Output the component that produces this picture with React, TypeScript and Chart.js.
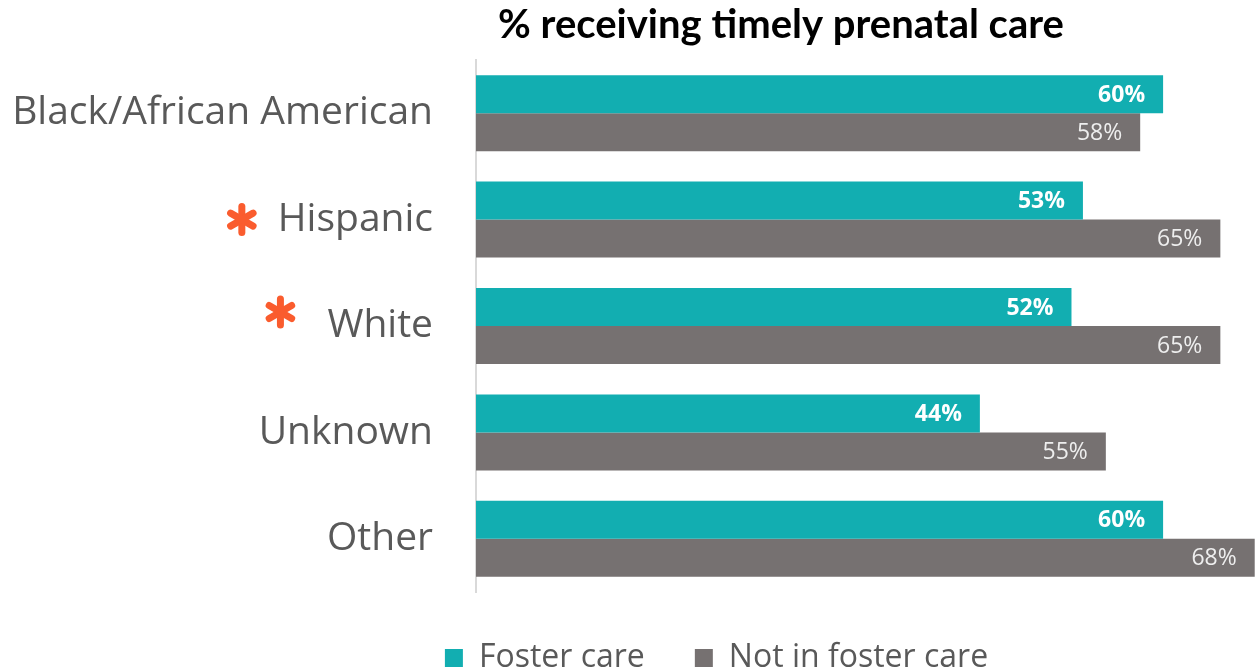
import React, { useEffect, useRef } from "react";
import { Chart, registerables } from "chart.js";

Chart.register(...registerables);

const categories = ["Black/African American", "Hispanic", "White", "Unknown", "Other"];
const fosterCare = [60, 53, 52, 44, 60];
const notInFosterCare = [58, 65, 65, 55, 68];
const starredCategories = ["Hispanic", "White"];
const seriesNames = ["Foster care", "Not in foster care"];
const titleText = "% receiving timely prenatal care";

const TEAL = "#12AEB1";
const GREY = "#767171";
const LABEL_GREY = "#595959";
const ASTERISK = "#FA5C2E";
const FONT = "'Open Sans', Lato, sans-serif";
const TITLE_FONT = "Lato, 'Open Sans', sans-serif";
const TICK_SIZE = 39;

export default function App() {
  const canvasRef = useRef<HTMLCanvasElement | null>(null);

  useEffect(() => {
    document.body.style.margin = "0";
    const canvas = canvasRef.current;
    if (!canvas) return;

    const overlay = {
      id: "overlay",
      afterLayout(chart: any) {
        const lg = chart.legend;
        if (lg) {
          const dx = 88;
          lg.left += dx;
          lg.right += dx;
        }
      },
      afterDatasetsDraw(chart: any) {
        const ctx = chart.ctx;
        ctx.save();
        chart.data.datasets.forEach((ds: any, di: number) => {
          const meta = chart.getDatasetMeta(di);
          meta.data.forEach((bar: any, i: number) => {
            const v = ds.data[i];
            ctx.font = di === 0 ? `bold 23px ${FONT}` : `23px ${FONT}`;
            ctx.fillStyle = di === 0 ? "#FFFFFF" : "#EEEEEE";
            ctx.textAlign = "right";
            ctx.textBaseline = "middle";
            ctx.fillText(`${Math.round(v)}%`, bar.x - 18, bar.y + 1);
          });
        });
        ctx.restore();
      },
      afterDraw(chart: any) {
        const ctx = chart.ctx;
        ctx.save();
        ctx.font = `bold 40px ${TITLE_FONT}`;
        ctx.fillStyle = "#000000";
        ctx.textAlign = "center";
        ctx.textBaseline = "alphabetic";
        ctx.fillText(titleText, 781, 38);

        const yScale = chart.scales.y;
        ctx.font = `${TICK_SIZE}px ${FONT}`;
        const labelRight = yScale.right - 43;
        starredCategories.forEach((name) => {
          const idx = categories.indexOf(name);
          const py = yScale.getPixelForValue(idx);
          const w = ctx.measureText(name).width;
          const left = labelRight - w;
          const raised = name === "White";
          const cx = raised ? left - 47 : left - 36;
          const cy = raised ? py - 14 : py;
          ctx.strokeStyle = ASTERISK;
          ctx.lineWidth = 7;
          ctx.lineCap = "round";
          const r = 13;
          for (let k = 0; k < 3; k++) {
            const a = Math.PI / 2 + (k * Math.PI) / 3;
            ctx.beginPath();
            ctx.moveTo(cx - r * Math.cos(a), cy - r * Math.sin(a));
            ctx.lineTo(cx + r * Math.cos(a), cy + r * Math.sin(a));
            ctx.stroke();
          }
        });
        ctx.restore();
      },
    };

    const chart = new Chart(canvas, {
      type: "bar",
      data: {
        labels: categories,
        datasets: [
          {
            label: seriesNames[0],
            data: fosterCare,
            backgroundColor: TEAL,
            borderWidth: 0,
            categoryPercentage: 0.714,
            barPercentage: 1.0,
          },
          {
            label: seriesNames[1],
            data: notInFosterCare,
            backgroundColor: GREY,
            borderWidth: 0,
            categoryPercentage: 0.714,
            barPercentage: 1.0,
          },
        ],
      },
      options: {
        indexAxis: "y",
        animation: false,
        responsive: false,
        maintainAspectRatio: false,
        layout: { padding: { top: 60, bottom: -12, left: 0, right: 0 } },
        scales: {
          x: {
            display: false,
            min: 0,
            max: 68.2,
          },
          y: {
            afterFit: (scale: any) => {
              scale.width = 476;
              scale.paddingTop = 0;
              scale.paddingBottom = 0;
            },
            grid: { display: false, drawTicks: false },
            border: { display: true, color: "#D9D9D9", width: 2 },
            ticks: {
              color: LABEL_GREY,
              padding: 43,
              font: { family: FONT, size: TICK_SIZE },
            },
          },
        },
        plugins: {
          title: { display: false },
          tooltip: { enabled: false },
          legend: {
            display: true,
            position: "bottom",
            labels: {
              boxWidth: 18,
              boxHeight: 18,
              padding: 50,
              color: LABEL_GREY,
              font: { family: FONT, size: 32 },
            },
          },
        },
      },
      plugins: [overlay],
    } as any);

    return () => {
      chart.destroy();
    };
  }, []);

  return (
    <div style={{ position: "relative", width: 1257, height: 672 }}>
      <canvas ref={canvasRef} width={1257} height={672} style={{ display: "block" }} />
    </div>
  );
}
